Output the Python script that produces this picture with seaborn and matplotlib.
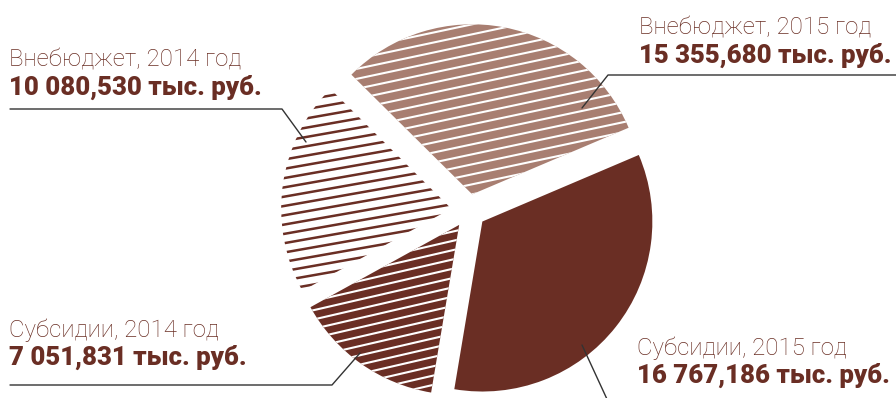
import numpy as np
import matplotlib.pyplot as plt
import seaborn as sns

# данные
labels = ["Субсидии, 2015 год", "Внебюджет, 2015 год", "Внебюджет, 2014 год", "Субсидии, 2014 год"]
values = [16767186, 15355680, 10080530, 7051831]
value_text = ["16 767,186 тыс. руб.", "15 355,680 тыс. руб.", "10 080,530 тыс. руб.", "7 051,831 тыс. руб."]

DARK = "#6a2e24"
LIGHT = "#a87e71"
W, H = 896, 398

sns.set_theme(style="white")
plt.rcParams["font.family"] = ["Roboto", "DejaVu Sans"]

fig = plt.figure(figsize=(W / 100, H / 100), dpi=100)
ax = fig.add_axes([0, 0, 1, 1])

# explode задаётся в единицах данных (пиксели)
wedges, _ = ax.pie(
    values,
    colors=[DARK, LIGHT, "white", DARK],
    startangle=-99.5,
    counterclock=True,
    explode=[17, 17, 18, 17],
    radius=170,
    center=(469, 187),
    wedgeprops=dict(linewidth=0),
    frame=True,
)
ax.set_xlim(0, W)
ax.set_ylim(0, H)
ax.set_aspect("equal")
ax.axis("off")


def stripes(wedge, color, lw, spacing, angle):
    # параллельные полосы, обрезанные по сектору
    cx, cy = wedge.center
    r = wedge.r
    k = np.tan(np.radians(angle))
    xs = np.array([cx - r - 20, cx + r + 20])
    for off in np.arange(-2 * r, 2 * r, spacing):
        ys = cy + off + k * (xs - cx)
        ln, = ax.plot(xs, ys, color=color, lw=lw, solid_capstyle="butt")
        ln.set_clip_path(wedge)


stripes(wedges[1], "white", 1.5, 10, 12)
stripes(wedges[2], DARK, 1.8, 9.3, 10)
stripes(wedges[3], "white", 1.5, 9.3, 13)

# подписи
def label(x, y, name, val):
    ax.text(x, H - y, name, fontsize=17.3, fontweight="light", color=DARK, va="baseline")
    ax.text(x, H - y - 28, val, fontsize=18.5, fontweight="black", color=DARK, va="baseline")


label(639, 35, labels[1], value_text[1])
label(9, 67, labels[2], value_text[2])
label(9, 337, labels[3], value_text[3])
label(637, 355, labels[0], value_text[0])

lc = "#333333"
ax.plot([896, 608, 582], [H - 75, H - 75, H - 108], color=lc, lw=1)
ax.plot([10, 282, 306], [H - 109, H - 109, H - 142], color=lc, lw=1)
ax.plot([10, 332, 360], [H - 385, H - 385, H - 353], color=lc, lw=1)
ax.plot([582, 612], [H - 345, H - 410], color=lc, lw=1)

fig.savefig("out.png", dpi=100)
